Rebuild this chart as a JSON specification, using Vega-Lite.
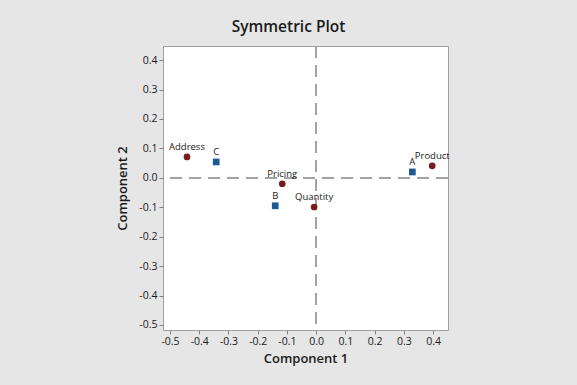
{
  "$schema": "https://vega.github.io/schema/vega-lite/v6.json",
  "autosize": "none",
  "width": 285,
  "height": 284,
  "padding": {"left": 163, "top": 46, "right": 129, "bottom": 55},
  "background": "#e6e6e6",
  "title": {"text": "Symmetric Plot", "fontSize": 15.5, "font": "Open Sans", "fontWeight": 600, "color": "#1a1a1a", "anchor": "middle", "dx": -17, "offset": 10},
  "config": {
    "view": {"fill": "white", "stroke": "#a0a0a0", "strokeWidth": 1},
    "axis": {"grid": false, "domain": false, "tickColor": "#808080", "tickSize": 4, "labelFont": "Open Sans", "labelFontSize": 10.5, "labelColor": "#1a1a1a", "titleFont": "Open Sans", "titleFontSize": 13, "titleFontWeight": 600, "titleColor": "#1a1a1a", "labelOverlap": false, "labelSeparation": 0}
  },
  "data": {"values": [
    {"name": "Address", "c1": -0.442, "c2": 0.071, "type": "Column"},
    {"name": "Pricing", "c1": -0.116, "c2": -0.020, "type": "Column"},
    {"name": "Quantity", "c1": -0.007, "c2": -0.099, "type": "Column"},
    {"name": "Product", "c1": 0.397, "c2": 0.041, "type": "Column"},
    {"name": "C", "c1": -0.342, "c2": 0.054, "type": "Row"},
    {"name": "B", "c1": -0.140, "c2": -0.095, "type": "Row"},
    {"name": "A", "c1": 0.329, "c2": 0.020, "type": "Row"}
  ]},
  "layer": [
    {"mark": {"type": "rule", "stroke": "#a0a0a0", "strokeDash": [12, 7], "strokeWidth": 1}, "encoding": {"x": {"datum": 0, "type": "quantitative", "title": "Component 1", "scale": {"domain": [-0.524, 0.451], "nice": false, "zero": false}, "axis": {"values": [-0.5, -0.4, -0.3, -0.2, -0.1, 0, 0.1, 0.2, 0.3, 0.4], "labelExpr": "replace(format(datum.value, '.1f'), '\u2212', '-')", "labelOverlap": false, "labelSeparation": 0, "titlePadding": 6}}}},
    {"mark": {"type": "rule", "stroke": "#a0a0a0", "strokeDash": [12, 7], "strokeWidth": 1}, "encoding": {"y": {"datum": 0, "type": "quantitative", "title": "Component 2", "scale": {"domain": [-0.517, 0.448], "nice": false, "zero": false}, "axis": {"values": [-0.5, -0.4, -0.3, -0.2, -0.1, 0, 0.1, 0.2, 0.3, 0.4], "labelExpr": "replace(format(datum.value, '.1f'), '\u2212', '-')", "labelOverlap": false, "labelSeparation": 0, "titlePadding": 9}}}},
    {
      "mark": {"type": "point", "filled": true, "opacity": 1, "size": 45},
      "encoding": {
        "x": {"field": "c1", "type": "quantitative", "title": "Component 1", "axis": {"values": [-0.5, -0.4, -0.3, -0.2, -0.1, 0, 0.1, 0.2, 0.3, 0.4], "labelExpr": "replace(format(datum.value, '.1f'), '\u2212', '-')", "labelOverlap": false, "labelSeparation": 0, "titlePadding": 6}},
        "y": {"field": "c2", "type": "quantitative", "title": "Component 2", "axis": {"values": [-0.5, -0.4, -0.3, -0.2, -0.1, 0, 0.1, 0.2, 0.3, 0.4], "labelExpr": "replace(format(datum.value, '.1f'), '\u2212', '-')", "labelOverlap": false, "labelSeparation": 0, "titlePadding": 9}},
        "shape": {"field": "type", "type": "nominal", "scale": {"domain": ["Column", "Row"], "range": ["circle", "square"]}, "legend": null},
        "color": {"field": "type", "type": "nominal", "scale": {"domain": ["Column", "Row"], "range": ["#7a1c1c", "#1d5b94"]}, "legend": null}
      }
    },
    {
      "mark": {"type": "text", "dy": -10, "fontSize": 9.5, "font": "Open Sans", "color": "#1a1a1a"},
      "encoding": {
        "x": {"field": "c1", "type": "quantitative", "title": "Component 1", "axis": {"values": [-0.5, -0.4, -0.3, -0.2, -0.1, 0, 0.1, 0.2, 0.3, 0.4], "labelExpr": "replace(format(datum.value, '.1f'), '\u2212', '-')", "labelOverlap": false, "labelSeparation": 0, "titlePadding": 6}},
        "y": {"field": "c2", "type": "quantitative", "title": "Component 2", "axis": {"values": [-0.5, -0.4, -0.3, -0.2, -0.1, 0, 0.1, 0.2, 0.3, 0.4], "labelExpr": "replace(format(datum.value, '.1f'), '\u2212', '-')", "labelOverlap": false, "labelSeparation": 0, "titlePadding": 9}},
        "text": {"field": "name"}
      }
    }
  ]
}
